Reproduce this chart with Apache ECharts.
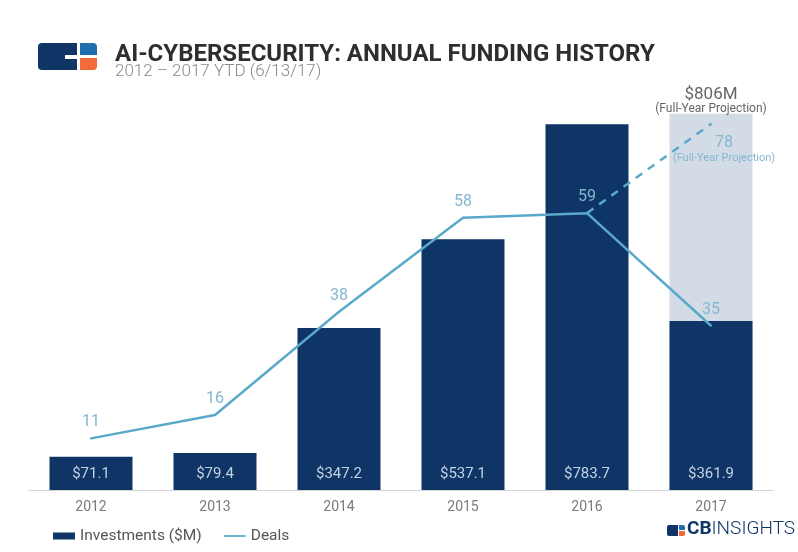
<!DOCTYPE html>
<html>
<head>
<meta charset="utf-8">
<script src="https://cdn.jsdelivr.net/npm/echarts@6/dist/echarts.min.js"></script>
<style>
html,body{margin:0;padding:0;background:#fff;}
#chart{width:798px;height:552px;}
</style>
</head>
<body>
<div id="chart"></div>
<script>
var years = ['2012', '2013', '2014', '2015', '2016', '2017'];
var investments = [71.1, 79.4, 347.2, 537.1, 783.7, 361.9];
var projectionInvest = [null, null, null, null, null, 806];
var deals = [11, 16, 38, 58, 59, 35];
var projectionDeals = [null, null, null, null, 59, 78];
var titleText = 'AI-CYBERSECURITY: ANNUAL FUNDING HISTORY';
var subtitleText = '2012 \u2013 2017 YTD (6/13/17)';

var NAVY = '#0e3565';
var LINE = '#5aa9cb';
var LINE_LABEL = '#85b6d0';

var chart = echarts.init(document.getElementById('chart'));

var projDealsData = projectionDeals.map(function (v, i) {
  if (i === projectionDeals.length - 1) {
    return {
      value: v,
      label: {
        show: true,
        position: 'bottom',
        distance: 2,
        offset: [13, 8],
        formatter: '{a|{c}}\n{b|(Full-Year Projection)}',
        rich: {
          a: { fontSize: 16, color: LINE_LABEL, lineHeight: 16, fontFamily: 'Roboto', align: 'center' },
          b: { fontSize: 11, color: LINE_LABEL, lineHeight: 14, fontFamily: 'Roboto', align: 'center' }
        }
      }
    };
  }
  return { value: v, label: { show: false } };
});

var option = {
  backgroundColor: '#fff',
  animation: false,
  textStyle: { fontFamily: 'Roboto' },
  grid: { left: 29, right: 25, top: 70, bottom: 62, containLabel: false },
  legend: {
    left: 48,
    top: 523,
    itemWidth: 22,
    itemHeight: 7,
    itemGap: 22,
    textStyle: { fontSize: 15.5, color: '#555', fontFamily: 'Roboto' },
    data: [
      { name: 'Investments ($M)', icon: 'rect' },
      { name: 'Deals', icon: 'path://M0,0 L26,0 L26,2 L0,2 Z', itemStyle: { color: LINE, opacity: 1 } }
    ]
  },
  xAxis: {
    type: 'category',
    data: years,
    axisLine: { lineStyle: { color: '#d4d4d4', width: 1 } },
    axisTick: { show: false },
    axisLabel: { color: '#7a7a7a', fontSize: 14, margin: 10 }
  },
  yAxis: [
    { type: 'value', min: 0, max: 900, show: false, splitLine: { show: false } },
    { type: 'value', min: 0, max: 89.5, show: false, splitLine: { show: false } }
  ],
  series: [
    {
      name: 'Projection',
      type: 'bar',
      data: projectionInvest,
      barWidth: 83,
      barGap: '-100%',
      itemStyle: { color: '#d3dce6' },
      label: {
        show: true,
        position: 'top',
        distance: 1,
        offset: [0, 3],
        formatter: '{a|${c}M}\n{b|(Full-Year Projection)}',
        rich: {
          a: { fontSize: 17, color: '#666', lineHeight: 14, fontFamily: 'Roboto', align: 'center' },
          b: { fontSize: 12, color: '#666', lineHeight: 14, fontFamily: 'Roboto', align: 'center' }
        }
      },
      z: 1
    },
    {
      name: 'Investments ($M)',
      type: 'bar',
      data: investments,
      barWidth: 83,
      barGap: '-100%',
      itemStyle: { color: NAVY },
      label: {
        show: true,
        position: 'insideBottom',
        distance: 8,
        color: '#c3d1e4',
        fontSize: 15,
        formatter: function (p) { return '$' + p.value.toFixed(1); }
      },
      z: 2
    },
    {
      name: 'DealsProj',
      type: 'line',
      yAxisIndex: 1,
      data: projDealsData,
      symbol: 'circle',
      symbolSize: 2,
      showSymbol: true,
      itemStyle: { color: LINE },
      connectNulls: false,
      lineStyle: { color: LINE, width: 2.5, type: [8, 7] },
      z: 3
    },
    {
      name: 'Deals',
      type: 'line',
      yAxisIndex: 1,
      data: deals,
      symbol: 'circle',
      symbolSize: 2,
      showSymbol: true,
      lineStyle: { color: LINE, width: 2.5 },
      itemStyle: { color: LINE },
      label: {
        show: true,
        position: 'top',
        distance: 7,
        color: LINE_LABEL,
        fontSize: 16
      },
      z: 4
    }
  ],
  graphic: [
    // top-left logo
    { type: 'rect', shape: { x: 38, y: 43, width: 39, height: 27, r: [4, 0, 0, 4] }, style: { fill: NAVY } },
    { type: 'rect', shape: { x: 65, y: 55, width: 12, height: 4 }, style: { fill: '#fff' } },
    { type: 'rect', shape: { x: 80, y: 43, width: 17, height: 12, r: [0, 4, 0, 0] }, style: { fill: '#1f6fae' } },
    { type: 'rect', shape: { x: 80, y: 58, width: 17, height: 12, r: [0, 0, 4, 0] }, style: { fill: '#f2693a' } },
    // title
    { type: 'text', left: 115, top: 43, style: { text: titleText, fontSize: 24, fontWeight: 'bold', fill: '#2e2e2e', fontFamily: 'Roboto' } },
    { type: 'text', left: 115, top: 63, style: { text: subtitleText, fontSize: 17, fontWeight: 300, fill: '#8a8a8a', fontFamily: 'Roboto' } },
    // bottom-right CB Insights logo
    { type: 'rect', shape: { x: 667, y: 525, width: 11, height: 11, r: [2, 0, 0, 2] }, style: { fill: NAVY } },
    { type: 'rect', shape: { x: 679, y: 525, width: 6, height: 5, r: [0, 2, 0, 0] }, style: { fill: '#1f6fae' } },
    { type: 'rect', shape: { x: 679, y: 531, width: 6, height: 5, r: [0, 0, 2, 0] }, style: { fill: '#f2693a' } },
    { type: 'text', left: 687, top: 520, style: { text: '{a|CB}{b|INSIGHTS}', rich: {
        a: { fontSize: 19, fontWeight: 'bold', fill: NAVY, fontFamily: 'Roboto' },
        b: { fontSize: 19, fontWeight: 300, fill: NAVY, fontFamily: 'Roboto' }
      } } }
  ]
};

chart.setOption(option);
</script>
</body>
</html>
